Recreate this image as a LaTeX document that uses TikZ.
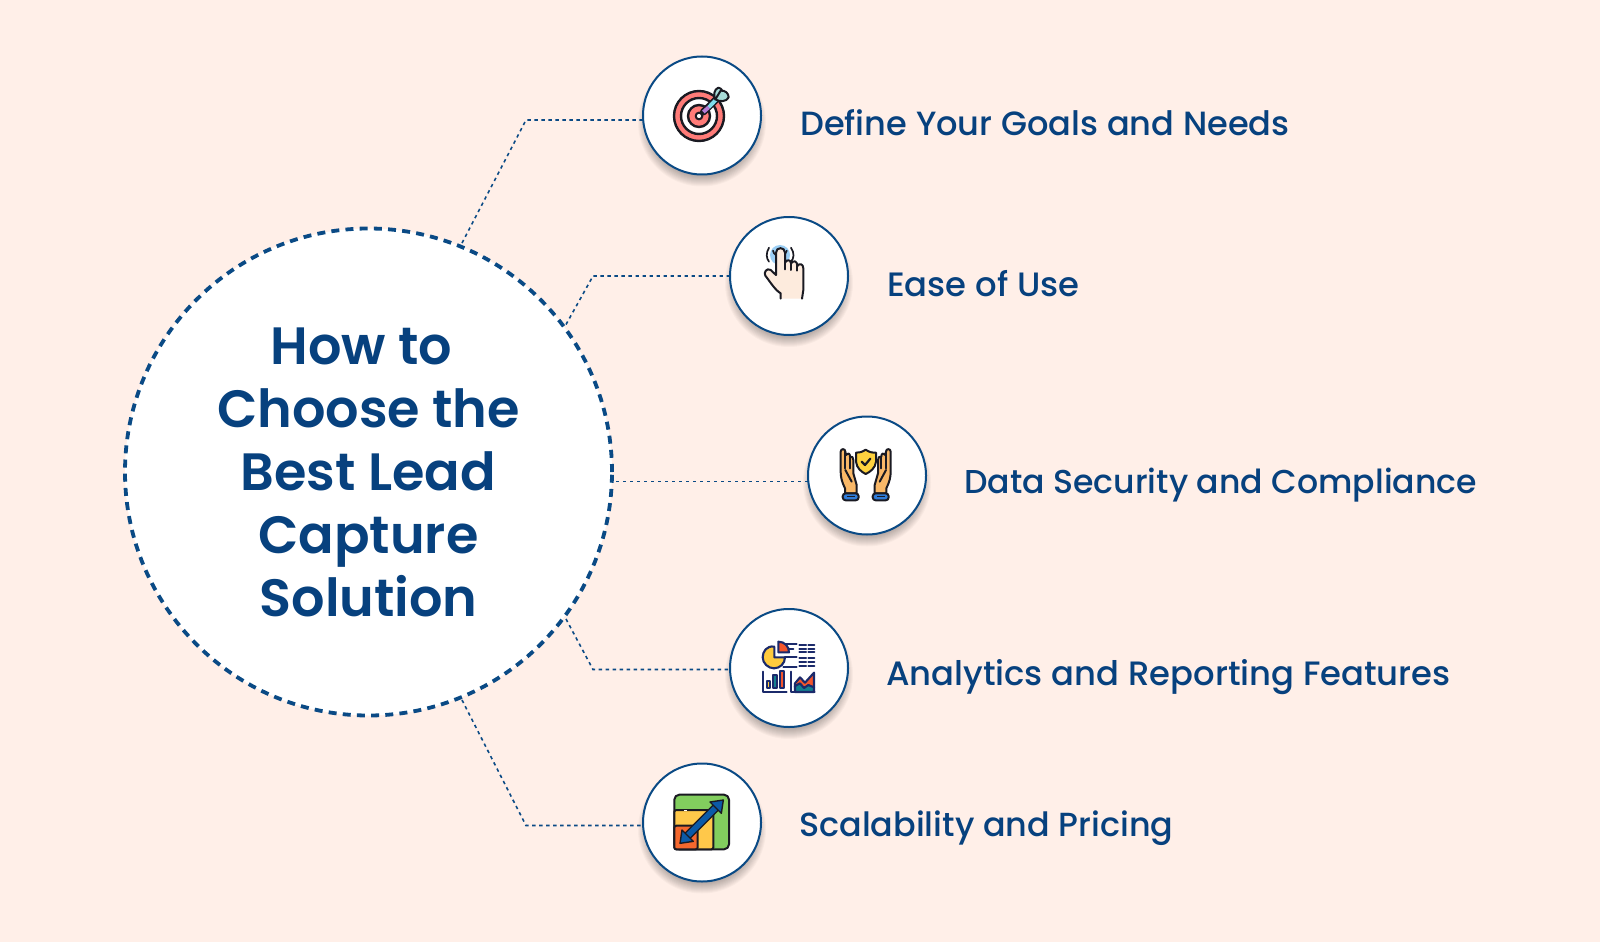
\documentclass[tikz,border=0pt]{standalone}
\usepackage{fontspec}
\setmainfont{Poppins Medium}
\newfontfamily\headfont{Poppins SemiBold}
\definecolor{bgc}{HTML}{FFEFE8}
\definecolor{navy}{HTML}{07417E}
\definecolor{ring}{HTML}{0A4A85}
\definecolor{ink}{HTML}{1A1A22}
\definecolor{tred}{HTML}{FF7B78}
\definecolor{tcyan}{HTML}{7FDCEB}
\definecolor{tpale}{HTML}{A8DCD8}
\definecolor{tpurple}{HTML}{B57BD6}
\definecolor{skin}{HTML}{FDEBDD}
\definecolor{tapblue}{HTML}{9CCFF5}
\definecolor{handc}{HTML}{F9B868}
\definecolor{shieldc}{HTML}{FFD23F}
\definecolor{cuffc}{HTML}{2F7BD8}
\definecolor{chartink}{HTML}{1B2A6B}
\definecolor{chyellow}{HTML}{FFCB3D}
\definecolor{chred}{HTML}{F4552B}
\definecolor{chteal}{HTML}{13808F}
\definecolor{sqgreen}{HTML}{82CE5E}
\definecolor{sqyellow}{HTML}{FFC84A}
\definecolor{sqred}{HTML}{F4682E}
\definecolor{sqblue}{HTML}{0B5AA8}
\tikzset{
  x=1pt,y=-1pt,
  bigc/.style={circle,fill=white,draw=ring,line width=3.8pt,dash pattern=on 8pt off 6.2pt,minimum size=487pt,inner sep=0pt,font=\headfont\fontsize{52.5}{63}\selectfont,text=navy,align=center},
  smallc/.style={circle,minimum size=118pt,inner sep=0pt},
  conn/.style={draw=ring,line width=1.6pt,dash pattern=on 3.4pt off 3.6pt},
  lab/.style={anchor=base west,text=navy,inner sep=0pt},
  ic/.style={draw=ink,line width=2pt,line join=round,line cap=round},
  ch/.style={draw=chartink,line width=2.1pt,line join=round,line cap=round},
}
\newcommand{\softshadow}[2]{%
  \foreach \r in {52,53,...,64}{\fill[black,opacity=0.028] (#1,#2+7) circle[radius=\r];}}
\newcommand{\fs}[1]{\fontsize{#1}{38}\selectfont}
\begin{document}
\begin{tikzpicture}
\useasboundingbox (0,0) rectangle (1600,944);
\fill[bgc] (0,0) rectangle (1600,941.5);
% main circle
\node[bigc] (big) at (368.5,472) {How to\hspace*{14pt}\\Choose the\\Best Lead\\Capture\\Solution};
% elbows
\coordinate (e1) at (526,120);
\coordinate (e2) at (593,276);
\coordinate (e4) at (593,669.5);
\coordinate (e5) at (526,825.5);
% item circle positions (shadows first)
\softshadow{702}{115.5}
\softshadow{789}{276}
\softshadow{867}{475.5}
\softshadow{789}{668}
\softshadow{702}{822.5}
\node[smallc] (s1) at (702,115.5) {};
\node[smallc] (s2) at (789,276) {};
\node[smallc] (s3) at (867,475.5) {};
\node[smallc] (s4) at (789,668) {};
\node[smallc] (s5) at (702,822.5) {};
% connectors
\coordinate (b1) at (462,243);
\coordinate (b2) at (566,324.5);
\coordinate (b3) at (616,481.5);
\coordinate (b4) at (566,619);
\coordinate (b5) at (462,700);
\draw[conn] (b1) -- (e1) -- (e1 -| s1.center);
\draw[conn] (b2) -- (e2) -- (e2 -| s2.center);
\draw[conn] (b3) -- (b3 -| s3.center);
\draw[conn] (b4) -- (e4) -- (e4 -| s4.center);
\draw[conn] (b5) -- (e5) -- (e5 -| s5.center);
% circles on top
\foreach \p in {s1,s2,s3,s4,s5}{\fill[white] (\p) circle[radius=59]; \draw[ring,line width=2pt] (\p) circle[radius=59];}
% labels
\node[lab,font=\fs{33.6}] (t1) at (800,136) {Define Your Goals and Needs};
\node[lab,font=\fs{33.8}] (t2) at (887,296) {Ease of Use};
\node[lab,font=\fs{33.1}] (t3) at (964,493) {Data Security and Compliance};
\node[lab,font=\fs{33.8}] (t4) at (886,685.5) {Analytics and Reporting Features};
\node[lab,font=\fs{33.4}] (t5) at (799,836.5) {Scalability and Pricing};
% icon 1: target
\begin{scope}[shift={(630,40)},scale=1/3]
\filldraw[ic,line width=2.4pt,fill=tred] (207,228) circle[radius=75];
\fill[white] (207,228) circle[radius=54];
\draw[ic,line width=2.4pt] (207,228) circle[radius=54];
\filldraw[ic,line width=2.4pt,fill=tred] (207,228) circle[radius=33];
\filldraw[ic,fill=white] (207,228) circle[radius=10];
\draw[ink,line width=7pt,line cap=round] (220,216) -- (262,175);
\draw[tcyan,line width=3.8pt] (236,202) -- (262,175);
\draw[tpurple,line width=3.8pt] (220,216) -- (236,202);
\filldraw[ic,fill=tpale] (256,178) .. controls (250,165) and (252,148) .. (265,143) .. controls (276,145) and (280,155) .. (276,165) -- cycle;
\filldraw[ic,fill=tpale] (256,178) .. controls (268,186) and (290,186) .. (296,172) .. controls (296,160) and (285,150) .. (272,152) -- cycle;
\end{scope}
% icon 2: hand
\begin{scope}[shift={(720,210)},scale=1/3]
\fill[tapblue] (180,135) circle[radius=30];
\draw[ic,line width=1.7pt] (147,113) .. controls (137,130) and (139,145) .. (147,155);
\draw[ic,line width=1.7pt] (213,113) .. controls (224,130) and (222,145) .. (213,155);
\draw[ic,line width=1.7pt] (159,122) arc[start angle=170,end angle=10,radius=21];
\filldraw[ic,fill=skin] (182,266) -- (182,250) .. controls (165,240) and (150,215) .. (136,197) .. controls (130,188) and (140,172) .. (152,180) -- (168,195) -- (168,128) .. controls (168,110) and (195,110) .. (195,128) -- (195,158) .. controls (200,148) and (212,148) .. (213,160) .. controls (220,150) and (232,152) .. (232,168) .. controls (238,158) and (250,162) .. (250,175) -- (250,240) -- (246,266);
\draw[ic] (195,158) -- (195,178);
\draw[ic] (213,160) -- (213,180);
\draw[ic] (232,168) -- (232,182);
\end{scope}
% icon 3: shield and hands
\begin{scope}[shift={(800,410)},scale=1/3]
\filldraw[ic,fill=shieldc] (197,119) .. controls (185,127) and (178,128) .. (168,128) -- (168,155) .. controls (170,175) and (185,186) .. (197,192) .. controls (210,186) and (226,175) .. (228,155) -- (228,128) .. controls (216,128) and (208,127) .. (197,119) -- cycle;
\draw[ic,line width=2.2pt] (185,155) -- (195,165) -- (211,146);
\foreach \s/\c in {1/0,-1/394}{
\begin{scope}[shift={(\c,0)},xscale=\s]
\filldraw[ic,fill=handc] (135,250) -- (135,235) .. controls (125,215) and (122,200) .. (122,185) -- (122,125) .. controls (122,115) and (136,115) .. (136,125) -- (138,135) .. controls (145,128) and (150,130) .. (150,140) .. controls (156,138) and (160,142) .. (160,150) -- (160,190) -- (170,225) -- (170,250) -- cycle;
\draw[ic] (136,125) -- (136,175);
\draw[ic] (150,140) -- (150,175);
\draw[ic] (136,180) -- (155,215);
\filldraw[ic,fill=cuffc,rounded corners=3pt] (128,250) rectangle (176,271);
\draw[ink,line width=0.8pt] (140,260) -- (164,260);
\end{scope}}
\end{scope}
% icon 4: charts
\begin{scope}[shift={(720,600)},scale=1/3]
\filldraw[ch,fill=chyellow] (163,172) -- (163,140) .. controls (140,136) and (128,155) .. (128,172) .. controls (128,190) and (145,205) .. (162,205) .. controls (180,205) and (195,190) .. (195,172) -- cycle;
\filldraw[ch,fill=chred] (175,125) .. controls (195,125) and (207,140) .. (207,157) -- (175,157) -- cycle;
\draw[ch] (195,133) -- (230,133);
\draw[ch] (207,147) -- (220,147);
\draw[ch] (195,172) -- (230,172);
\draw[ch] (190,200) -- (230,200);
\foreach \y in {135,147,155,175,187,197}{\draw[ch] (238,\y) -- (258,\y);\draw[ch] (265,\y) -- (283,\y);}
\draw[ch] (128,215) -- (128,276) -- (200,276);
\filldraw[ch,fill=chyellow] (140,242) rectangle (150,264);
\filldraw[ch,fill=chteal] (160,226) rectangle (170,264);
\filldraw[ch,fill=chred] (181,214) rectangle (191,264);
\filldraw[ch,fill=chred] (225,250) -- (240,232) -- (255,248) -- (282,218) -- (282,262) -- (225,262) -- cycle;
\filldraw[ch,fill=chteal] (225,258) -- (240,250) -- (252,264) -- (265,255) -- (282,262) -- (282,276) -- (225,276) -- cycle;
\draw[ch] (213,215) -- (213,276) -- (284,276);
\end{scope}
% icon 5: scale
\begin{scope}[shift={(640,760)},scale=1/3]
\filldraw[ic,fill=sqgreen,rounded corners=5pt] (103,104) rectangle (267,268);
\filldraw[ic,fill=sqyellow,rounded corners=2pt] (103,150) -- (220,150) -- (220,268) -- (103,268) -- cycle;
\filldraw[ic,fill=sqred,rounded corners=2pt] (103,197) -- (173,197) -- (173,268) -- (103,268) -- cycle;
\draw[white,line width=1pt] (132,150) -- (142,150);
\draw[ink,line width=8.4pt] (135,235) -- (235,135);
\draw[sqblue,line width=5.6pt] (135,235) -- (235,135);
\filldraw[ic,line width=1.4pt,fill=sqblue] (250,120) -- (244,160) -- (210,126) -- cycle;
\filldraw[ic,line width=1.4pt,fill=sqblue] (120,250) -- (126,210) -- (160,244) -- cycle;
\end{scope}
\end{tikzpicture}
\end{document}
